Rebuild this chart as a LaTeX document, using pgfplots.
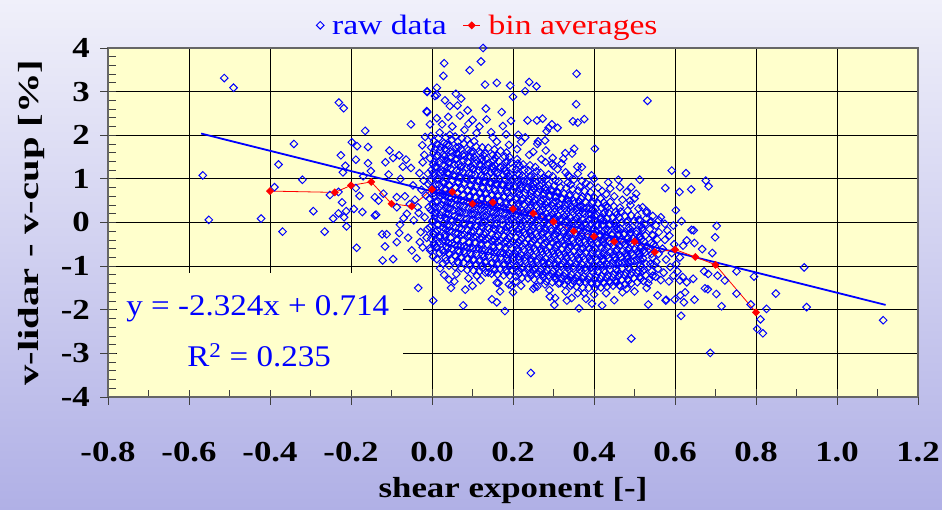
\documentclass[border=0pt]{standalone}
\usepackage{pgfplots}
\pgfplotsset{compat=1.18}
\usepackage{fontspec}
\setmainfont{Liberation Serif}
\newfontfamily\wideserif[FakeStretch=1.2]{Liberation Serif}
\newfontfamily\ylabfont[FakeStretch=1.4]{Liberation Serif}
\newfontfamily\eqfont[FakeStretch=1.1]{Liberation Serif}
\definecolor{plotbg}{RGB}{255,255,204}
\definecolor{bgtop}{RGB}{240,240,250}
\definecolor{bgmid}{RGB}{214,214,242}
\definecolor{bgbot}{RGB}{176,176,230}
\definecolor{pblue}{RGB}{0,0,255}
\definecolor{pred}{RGB}{255,0,0}
\begin{document}
\begin{tikzpicture}[x=1pt,y=1pt]
\shade[top color=bgtop, middle color=bgmid, bottom color=bgbot] (0,0) rectangle (942,510);
\begin{axis}[
  at={(108pt,113pt)}, anchor=south west,
  scale only axis, width=810pt, height=349pt,
  xmin=-0.8, xmax=1.2, ymin=-4, ymax=4,
  axis background/.style={fill=plotbg},
  xtick={-0.8,-0.6,-0.4,-0.2,0,0.2,0.4,0.6,0.8,1.0,1.2},
  xticklabels={-0.8,-0.6,-0.4,-0.2,0.0,0.2,0.4,0.6,0.8,1.0,1.2},
  ytick={-4,-3,-2,-1,0,1,2,3,4},
  yticklabels={-4,-3,-2,-1,0,1,2,3,4},
  minor x tick num=1, minor y tick num=4,
  xtick pos=bottom, ytick pos=left,
  tick align=inside, major tick length=8pt, minor tick length=8pt,
  tick style={black!75, line width=0.8pt},
  xmajorgrids, ymajorgrids,
  grid style={black, line width=0.8pt},
  axis line style={black!60, line width=1.4pt},
  xticklabel style={font=\wideserif\bfseries\fontsize{29}{29}\selectfont, inner sep=0pt, yshift=-45pt},
  yticklabel style={font=\wideserif\bfseries\fontsize{29}{29}\selectfont, inner sep=0pt, anchor=east, xshift=-18pt},
  xlabel={shear exponent [-]},
  xlabel style={font=\wideserif\bfseries\fontsize{29}{29}\selectfont, at={(axis description cs:0.5,0)}, anchor=base, yshift=-101pt},
  ylabel={v-lidar - v-cup [\%]},
  ylabel style={font=\ylabfont\bfseries\fontsize{29}{29}\selectfont, at={(axis description cs:0,0.5)}, anchor=base, yshift=69pt},
  legend style={draw=none, fill=none, at={(axis description cs:0.5,1)}, anchor=south, xshift=-25pt, yshift=8pt,
    font=\wideserif\fontsize{28}{28}\selectfont, legend columns=-1,
    /tikz/every odd column/.append style={column sep=6pt},
    /tikz/every even column/.append style={column sep=14pt}},
]
\fill[plotbg] (axis cs:-0.778,-3.83) rectangle (axis cs:-0.072,-1.15);
\addplot[only marks, mark=square, mark size=2.7pt, mark options={rotate=45, draw=pblue, line width=1pt, fill=none}] coordinates {
(-0.566,1.08)(-0.551,0.06)(-0.513,3.31)(-0.49,3.09)(-0.422,0.09)(-0.389,0.81)(-0.379,1.33)(-0.369,-0.21)(-0.341,1.80)(-0.32,0.98)(-0.293,0.26)(-0.265,-0.21)(-0.252,0.63)(-0.244,0.09)(-0.231,0.70)(-0.231,0.21)(-0.230,2.75)(-0.225,1.54)(-0.222,0.46)(-0.22,1.15)(-0.218,2.62)(-0.217,0.12)(-0.214,1.30)(-0.212,0.26)(-0.211,-0.09)(-0.198,1.84)(-0.193,0.31)(-0.188,1.44)(-0.188,0.79)(-0.186,-0.58)(-0.185,1.75)(-0.179,0.61)(-0.172,0.24)(-0.17,1.06)(-0.165,2.10)(-0.158,1.73)(-0.158,1.36)(-0.151,1.18)(-0.141,0.58)(-0.141,0.16)(-0.138,0.18)(-0.132,0.50)(-0.123,-0.27)(-0.122,-0.87)(-0.12,0.66)(-0.116,-0.55)(-0.115,1.38)(-0.112,-0.27)(-0.107,1.10)(-0.105,1.65)(-0.096,1.48)(-0.096,-0.84)(-0.087,0.58)(-0.087,0.35)(-0.087,-0.45)(-0.081,1.54)(-0.081,-0.24)(-0.079,-0.05)(-0.078,1.00)(-0.072,1.28)(-0.067,0.60)(-0.064,1.44)(-0.062,0.20)(-0.059,-0.35)(-0.052,2.25)(-0.052,1.25)(-0.05,-0.64)(-0.038,-0.82)(-0.035,0.35)(-0.034,-1.50)(-0.031,1.13)(-0.03,-0.45)(-0.024,1.77)(-0.023,1.38)(-0.023,-0.57)(-0.021,0.96)(-0.017,1.96)(-0.013,2.55)(-0.012,2.99)(-0.012,2.53)(-0.012,3.01)(-0.005,2.25)(-0.005,-0.59)(0.003,-1.79)(0.007,2.90)(0.012,2.92)(0.012,3.09)(0.012,2.39)(0.028,3.36)(0.030,3.65)(0.032,2.80)(0.042,-1.31)(0.044,2.67)(0.047,-1.50)(0.059,2.95)(0.063,2.68)(0.069,2.45)(0.072,2.84)(0.077,-1.90)(0.082,-1.54)(0.088,2.57)(0.09,2.26)(0.093,3.49)(0.111,-1.22)(0.117,2.20)(0.121,3.69)(0.126,4.0)(0.131,3.16)(0.133,2.61)(0.135,2.36)(0.139,-1.15)(0.146,2.07)(0.148,-1.76)(0.16,-1.83)(0.160,3.20)(0.164,-1.39)(0.168,-1.58)(0.172,2.53)(0.175,2.21)(0.18,-2.03)(0.183,2.02)(0.193,3.14)(0.195,2.33)(0.197,-1.45)(0.2,2.88)(0.207,-1.35)(0.213,2.01)(0.230,3.01)(0.236,2.34)(0.240,3.22)(0.244,-3.45)(0.25,-1.52)(0.254,-1.48)(0.258,3.12)(0.259,2.34)(0.262,1.86)(0.273,2.38)(0.279,1.88)(0.279,-1.42)(0.281,1.65)(0.283,2.09)(0.288,2.17)(0.291,-1.70)(0.296,2.25)(0.297,1.35)(0.298,1.48)(0.302,-1.89)(0.304,-1.73)(0.31,2.17)(0.316,-1.39)(0.324,1.46)(0.329,1.59)(0.333,-1.79)(0.345,-1.73)(0.346,1.58)(0.346,-1.41)(0.348,2.32)(0.351,1.69)(0.356,2.71)(0.357,3.41)(0.359,1.28)(0.36,2.29)(0.363,-1.97)(0.37,1.27)(0.376,2.37)(0.376,-1.62)(0.395,-1.86)(0.402,1.69)(0.407,-1.42)(0.435,0.92)(0.44,-1.39)(0.46,0.98)(0.464,0.81)(0.464,-1.45)(0.481,0.70)(0.481,-1.52)(0.489,0.50)(0.492,0.81)(0.492,-2.66)(0.504,0.66)(0.513,0.98)(0.514,0.05)(0.52,0.35)(0.53,0.26)(0.532,2.79)(0.534,-1.88)(0.534,-1.39)(0.538,0.01)(0.557,-1.67)(0.565,0.12)(0.575,-0.03)(0.576,0.79)(0.577,-1.79)(0.578,-1.77)(0.592,1.19)(0.596,-0.07)(0.599,-1.77)(0.602,0.28)(0.611,0.70)(0.612,-0.80)(0.612,-1.33)(0.613,-1.67)(0.615,-2.14)(0.616,0.03)(0.619,-1.25)(0.62,-0.53)(0.622,-1.83)(0.625,-1.60)(0.627,1.13)(0.629,-0.41)(0.629,-1.37)(0.64,0.76)(0.641,-0.17)(0.645,-1.29)(0.646,-0.18)(0.648,-0.47)(0.648,-1.77)(0.667,-0.61)(0.672,-1.12)(0.674,-1.51)(0.676,0.96)(0.681,-1.53)(0.682,-1.18)(0.683,0.83)(0.687,-2.99)(0.692,-0.70)(0.699,-0.34)(0.702,-1.64)(0.703,-0.08)(0.705,-1.22)(0.715,-1.92)(0.723,-1.33)(0.752,-1.12)(0.752,-1.63)(0.787,-1.88)(0.795,-1.24)(0.803,-2.44)(0.811,-2.22)(0.817,-2.54)(0.826,-1.98)(0.849,-1.63)(0.919,-1.03)(0.925,-1.94)(1.114,-2.24)
(0.336,1.08)(0.394,1.08)
(-0.015,0.62)(-0.008,0.35)(-0.018,0.12)(-0.011,-0.15)(-0.026,0.75)(-0.042,0.52)(-0.045,0.05)(-0.013,-0.35)(-0.019,1.55)(-0.01,1.12)(-0.028,-0.22)(-0.047,0.85)(-0.055,0.42)(-0.07,0.1)(-0.009,0.88)(-0.033,0.22)
(0.025,2.25)(0.05,2.20)(0.08,2.12)(0.11,2.05)(0.04,2.42)(0.1,2.35)(0.15,1.95)(0.16,1.85)(0.19,1.78)(0.21,1.68)(0.22,1.85)(0.24,1.55)(0.25,1.62)(0.27,1.45)(0.28,1.38)(0.30,1.30)(0.31,1.22)(0.33,1.15)(0.34,1.05)(0.35,0.98)(0.37,0.95)(0.38,0.90)(0.39,0.85)(0.41,0.80)(0.42,0.72)(0.43,0.65)(0.45,0.60)(0.47,0.52)(0.49,0.40)(0.51,0.32)(0.53,0.22)(0.545,0.15)(0.56,0.05)(0.23,1.95)(0.26,1.80)(0.32,1.35)(0.36,1.12)(0.40,1.0)(0.44,0.78)(0.5,0.55)
(0.02,-1.05)(0.06,-1.18)(0.09,-1.28)(0.12,-1.32)(0.16,-1.38)(0.19,-1.42)(0.22,-1.45)(0.26,-1.47)(0.29,-1.55)(0.33,-1.58)(0.36,-1.62)(0.40,-1.65)(0.43,-1.62)(0.47,-1.60)(0.50,-1.58)(0.53,-1.50)(0.055,-1.35)(0.03,-1.2)(0.1,-1.45)(0.2,-1.6)(0.38,-1.75)(0.45,-1.78)(0.42,-1.9)
(0.572,-1.15)(0.578,-0.85)(0.569,-0.60)(0.575,-0.40)(0.581,-0.18)(0.588,-1.02)(0.592,-0.70)(0.586,-0.30)(0.598,-0.50)(0.603,-0.95)(0.606,-1.12)(0.585,-1.35)(0.596,-1.22)(0.565,-1.32)
(0.003,-0.78)(-0.004,-0.64)(0.006,-0.52)(-0.002,-0.37)(0.004,-0.25)(-0.005,-0.11)(0.001,0.02)(0.007,0.15)(-0.003,0.29)(0.002,0.41)(-0.006,0.55)(0.005,0.68)(0.000,0.80)(-0.004,0.95)(0.006,1.07)(-0.001,1.21)(0.003,1.33)(-0.005,1.47)(0.004,1.60)(-0.002,1.72)(0.005,1.86)(-0.003,1.98)
(0.012,-0.84)(0.019,-0.70)(0.011,-0.58)(0.017,-0.45)(0.020,-0.31)(0.013,-0.18)(0.016,-0.05)(0.021,0.09)(0.010,0.22)(0.018,0.36)(0.014,0.48)(0.020,0.62)(0.012,0.74)(0.017,0.88)(0.015,1.01)(0.021,1.14)(0.011,1.27)(0.018,1.40)(0.014,1.54)(0.020,1.66)(0.013,1.80)(0.016,1.93)(0.019,2.06)
(0.027,-0.94)(0.033,-0.81)(0.029,-0.68)(0.035,-0.55)(0.026,-0.42)(0.031,-0.28)(0.034,-0.16)(0.028,-0.02)(0.032,0.11)(0.025,0.24)(0.036,0.37)(0.030,0.50)(0.027,0.64)(0.033,0.77)(0.029,0.90)(0.034,1.03)(0.026,1.16)(0.031,1.30)(0.035,1.42)(0.028,1.56)(0.032,1.69)(0.030,1.82)(0.034,1.95)
(0.042,-0.99)(0.048,-0.86)(0.044,-0.73)(0.049,-0.60)(0.041,-0.47)(0.046,-0.35)(0.050,-0.21)(0.043,-0.08)(0.047,0.06)(0.040,0.19)(0.045,0.32)(0.049,0.45)(0.042,0.58)(0.046,0.72)(0.044,0.85)(0.050,0.97)(0.041,1.11)(0.047,1.24)(0.043,1.37)(0.048,1.50)(0.045,1.63)(0.041,1.77)(0.049,1.90)(0.044,2.01)
(0.057,-1.02)(0.063,-0.90)(0.059,-0.77)(0.065,-0.64)(0.056,-0.51)(0.061,-0.39)(0.064,-0.25)(0.058,-0.12)(0.062,0.01)(0.055,0.14)(0.066,0.27)(0.060,0.40)(0.057,0.53)(0.063,0.67)(0.059,0.80)(0.064,0.93)(0.056,1.06)(0.061,1.19)(0.065,1.32)(0.058,1.45)(0.062,1.58)(0.060,1.72)(0.064,1.85)(0.057,1.97)
(0.072,-1.05)(0.078,-0.92)(0.074,-0.80)(0.079,-0.66)(0.071,-0.54)(0.076,-0.41)(0.080,-0.28)(0.073,-0.15)(0.077,-0.02)(0.070,0.11)(0.075,0.24)(0.079,0.37)(0.072,0.51)(0.076,0.63)(0.074,0.77)(0.080,0.90)(0.071,1.03)(0.077,1.16)(0.073,1.29)(0.078,1.42)(0.075,1.55)(0.071,1.68)(0.079,1.81)(0.074,1.93)
(0.087,-1.09)(0.093,-0.96)(0.089,-0.83)(0.095,-0.70)(0.086,-0.57)(0.091,-0.45)(0.094,-0.31)(0.088,-0.18)(0.092,-0.05)(0.085,0.08)(0.096,0.21)(0.090,0.34)(0.087,0.47)(0.093,0.61)(0.089,0.74)(0.094,0.87)(0.086,1.00)(0.091,1.13)(0.095,1.26)(0.088,1.39)(0.092,1.52)(0.090,1.66)(0.094,1.79)(0.087,1.90)
(0.102,-1.10)(0.108,-0.98)(0.104,-0.85)(0.109,-0.72)(0.101,-0.59)(0.106,-0.46)(0.110,-0.33)(0.103,-0.20)(0.107,-0.07)(0.100,0.06)(0.105,0.19)(0.109,0.32)(0.102,0.45)(0.106,0.58)(0.104,0.71)(0.110,0.84)(0.101,0.97)(0.107,1.10)(0.103,1.23)(0.108,1.36)(0.105,1.49)(0.101,1.62)(0.109,1.74)(0.104,1.86)
(0.117,-1.12)(0.123,-0.99)(0.119,-0.86)(0.125,-0.73)(0.116,-0.60)(0.121,-0.48)(0.124,-0.35)(0.118,-0.22)(0.122,-0.09)(0.115,0.04)(0.126,0.17)(0.120,0.30)(0.117,0.43)(0.123,0.56)(0.119,0.69)(0.124,0.82)(0.116,0.95)(0.121,1.08)(0.125,1.21)(0.118,1.34)(0.122,1.47)(0.120,1.60)(0.124,1.72)
(0.132,-1.15)(0.138,-1.02)(0.134,-0.89)(0.139,-0.76)(0.131,-0.63)(0.136,-0.50)(0.140,-0.37)(0.133,-0.24)(0.137,-0.11)(0.130,0.02)(0.135,0.15)(0.139,0.28)(0.132,0.41)(0.136,0.54)(0.134,0.67)(0.140,0.80)(0.131,0.93)(0.137,1.06)(0.133,1.19)(0.138,1.32)(0.135,1.45)(0.131,1.58)(0.139,1.71)
(0.147,-1.17)(0.153,-1.05)(0.149,-0.92)(0.155,-0.79)(0.146,-0.66)(0.151,-0.53)(0.154,-0.40)(0.148,-0.27)(0.152,-0.14)(0.145,-0.01)(0.156,0.12)(0.150,0.25)(0.147,0.38)(0.153,0.51)(0.149,0.64)(0.154,0.77)(0.146,0.90)(0.151,1.03)(0.155,1.16)(0.148,1.29)(0.152,1.42)(0.150,1.55)(0.154,1.67)
(0.162,-1.19)(0.168,-1.06)(0.164,-0.94)(0.169,-0.81)(0.161,-0.68)(0.166,-0.55)(0.170,-0.42)(0.163,-0.29)(0.167,-0.16)(0.160,-0.03)(0.165,0.10)(0.169,0.23)(0.162,0.36)(0.166,0.49)(0.164,0.62)(0.170,0.75)(0.161,0.88)(0.167,1.01)(0.163,1.14)(0.168,1.27)(0.165,1.40)(0.161,1.53)(0.169,1.64)
(0.177,-1.21)(0.183,-1.08)(0.179,-0.95)(0.185,-0.82)(0.176,-0.70)(0.181,-0.57)(0.184,-0.44)(0.178,-0.31)(0.182,-0.18)(0.175,-0.05)(0.186,0.08)(0.180,0.21)(0.177,0.34)(0.183,0.47)(0.179,0.60)(0.184,0.73)(0.176,0.86)(0.181,0.99)(0.185,1.12)(0.178,1.25)(0.182,1.38)(0.180,1.51)(0.184,1.60)
(0.192,-1.22)(0.198,-1.09)(0.194,-0.96)(0.199,-0.84)(0.191,-0.71)(0.196,-0.58)(0.200,-0.45)(0.193,-0.32)(0.197,-0.19)(0.190,-0.06)(0.195,0.07)(0.199,0.20)(0.192,0.33)(0.196,0.46)(0.194,0.59)(0.200,0.72)(0.191,0.85)(0.197,0.98)(0.193,1.11)(0.198,1.24)(0.195,1.37)(0.191,1.50)
(0.207,-1.24)(0.213,-1.11)(0.209,-0.98)(0.215,-0.85)(0.206,-0.72)(0.211,-0.60)(0.214,-0.47)(0.208,-0.34)(0.212,-0.21)(0.205,-0.08)(0.216,0.05)(0.210,0.18)(0.207,0.31)(0.213,0.44)(0.209,0.57)(0.214,0.70)(0.206,0.83)(0.211,0.96)(0.215,1.09)(0.208,1.22)(0.212,1.35)(0.210,1.45)
(0.222,-1.27)(0.228,-1.14)(0.224,-1.01)(0.229,-0.88)(0.221,-0.75)(0.226,-0.62)(0.230,-0.49)(0.223,-0.36)(0.227,-0.23)(0.220,-0.10)(0.225,0.03)(0.229,0.16)(0.222,0.29)(0.226,0.42)(0.224,0.55)(0.230,0.68)(0.221,0.81)(0.227,0.94)(0.223,1.07)(0.228,1.20)(0.225,1.33)
(0.237,-1.28)(0.243,-1.15)(0.239,-1.02)(0.245,-0.89)(0.236,-0.76)(0.241,-0.63)(0.244,-0.50)(0.238,-0.37)(0.242,-0.24)(0.235,-0.11)(0.246,0.02)(0.240,0.15)(0.237,0.28)(0.243,0.41)(0.239,0.54)(0.244,0.67)(0.236,0.80)(0.241,0.93)(0.245,1.06)(0.238,1.19)(0.242,1.31)
(0.252,-1.30)(0.258,-1.17)(0.254,-1.04)(0.259,-0.91)(0.251,-0.78)(0.256,-0.65)(0.260,-0.52)(0.253,-0.39)(0.257,-0.26)(0.250,-0.13)(0.255,0.00)(0.259,0.13)(0.252,0.26)(0.256,0.39)(0.254,0.52)(0.260,0.65)(0.251,0.78)(0.257,0.91)(0.253,1.04)(0.258,1.17)(0.255,1.27)
(0.267,-1.32)(0.273,-1.19)(0.269,-1.06)(0.275,-0.93)(0.266,-0.80)(0.271,-0.67)(0.274,-0.54)(0.268,-0.41)(0.272,-0.28)(0.265,-0.15)(0.276,-0.02)(0.270,0.11)(0.267,0.24)(0.273,0.37)(0.269,0.50)(0.274,0.63)(0.266,0.76)(0.271,0.89)(0.275,1.02)(0.268,1.14)
(0.282,-1.35)(0.288,-1.22)(0.284,-1.09)(0.289,-0.96)(0.281,-0.83)(0.286,-0.70)(0.290,-0.57)(0.283,-0.44)(0.287,-0.31)(0.280,-0.18)(0.285,-0.05)(0.289,0.08)(0.282,0.21)(0.286,0.34)(0.284,0.47)(0.290,0.60)(0.281,0.73)(0.287,0.86)(0.283,0.99)(0.288,1.10)
(0.297,-1.37)(0.303,-1.24)(0.299,-1.11)(0.305,-0.98)(0.296,-0.85)(0.301,-0.72)(0.304,-0.59)(0.298,-0.46)(0.302,-0.33)(0.295,-0.20)(0.306,-0.07)(0.300,0.06)(0.297,0.19)(0.303,0.32)(0.299,0.45)(0.304,0.58)(0.296,0.71)(0.301,0.84)(0.305,0.96)(0.298,1.06)
(0.312,-1.40)(0.318,-1.27)(0.314,-1.14)(0.319,-1.01)(0.311,-0.88)(0.316,-0.75)(0.320,-0.62)(0.313,-0.49)(0.317,-0.36)(0.310,-0.23)(0.315,-0.10)(0.319,0.03)(0.312,0.16)(0.316,0.29)(0.314,0.42)(0.320,0.55)(0.311,0.68)(0.317,0.81)(0.313,0.94)
(0.327,-1.42)(0.333,-1.29)(0.329,-1.16)(0.335,-1.03)(0.326,-0.90)(0.331,-0.77)(0.334,-0.64)(0.328,-0.51)(0.332,-0.38)(0.325,-0.25)(0.336,-0.12)(0.330,0.01)(0.327,0.14)(0.333,0.27)(0.329,0.40)(0.334,0.53)(0.326,0.66)(0.331,0.79)(0.335,0.91)
(0.342,-1.45)(0.348,-1.32)(0.344,-1.19)(0.349,-1.06)(0.341,-0.93)(0.346,-0.80)(0.350,-0.67)(0.343,-0.54)(0.347,-0.41)(0.340,-0.28)(0.345,-0.15)(0.349,-0.02)(0.342,0.11)(0.346,0.24)(0.344,0.37)(0.350,0.50)(0.341,0.63)(0.347,0.76)(0.343,0.87)
(0.357,-1.47)(0.363,-1.34)(0.359,-1.21)(0.365,-1.08)(0.356,-0.95)(0.361,-0.82)(0.364,-0.69)(0.358,-0.56)(0.362,-0.43)(0.355,-0.30)(0.366,-0.17)(0.360,-0.04)(0.357,0.09)(0.363,0.22)(0.359,0.35)(0.364,0.48)(0.356,0.61)(0.361,0.73)(0.365,0.82)
(0.372,-1.49)(0.378,-1.36)(0.374,-1.23)(0.379,-1.10)(0.371,-0.97)(0.376,-0.84)(0.380,-0.71)(0.373,-0.58)(0.377,-0.45)(0.370,-0.32)(0.375,-0.19)(0.379,-0.06)(0.372,0.07)(0.376,0.20)(0.374,0.33)(0.380,0.46)(0.371,0.59)(0.377,0.72)
(0.387,-1.50)(0.393,-1.37)(0.389,-1.24)(0.395,-1.11)(0.386,-0.98)(0.391,-0.85)(0.394,-0.72)(0.388,-0.59)(0.392,-0.46)(0.385,-0.33)(0.396,-0.20)(0.390,-0.07)(0.387,0.06)(0.393,0.19)(0.389,0.32)(0.394,0.45)(0.386,0.58)(0.391,0.69)
(0.402,-1.50)(0.408,-1.38)(0.404,-1.25)(0.409,-1.12)(0.401,-0.99)(0.406,-0.86)(0.410,-0.73)(0.403,-0.60)(0.407,-0.47)(0.400,-0.34)(0.405,-0.21)(0.409,-0.08)(0.402,0.05)(0.406,0.18)(0.404,0.31)(0.410,0.44)(0.401,0.57)
(0.417,-1.49)(0.423,-1.36)(0.419,-1.23)(0.425,-1.10)(0.416,-0.97)(0.421,-0.84)(0.424,-0.71)(0.418,-0.58)(0.422,-0.45)(0.415,-0.32)(0.426,-0.19)(0.420,-0.06)(0.417,0.07)(0.423,0.20)(0.419,0.33)(0.424,0.46)(0.416,0.55)
(0.432,-1.47)(0.438,-1.34)(0.434,-1.21)(0.439,-1.08)(0.431,-0.95)(0.436,-0.82)(0.440,-0.69)(0.433,-0.56)(0.437,-0.43)(0.430,-0.30)(0.435,-0.17)(0.439,-0.04)(0.432,0.09)(0.436,0.22)(0.434,0.35)(0.440,0.47)
(0.447,-1.45)(0.453,-1.32)(0.449,-1.19)(0.455,-1.06)(0.446,-0.93)(0.451,-0.80)(0.454,-0.67)(0.448,-0.54)(0.452,-0.41)(0.445,-0.28)(0.456,-0.15)(0.450,-0.02)(0.447,0.11)(0.453,0.24)(0.449,0.37)
(0.462,-1.44)(0.468,-1.31)(0.464,-1.18)(0.469,-1.05)(0.461,-0.92)(0.466,-0.79)(0.470,-0.66)(0.463,-0.53)(0.467,-0.40)(0.460,-0.27)(0.465,-0.14)(0.469,-0.01)(0.462,0.12)(0.466,0.25)(0.464,0.34)
(0.477,-1.42)(0.483,-1.29)(0.479,-1.16)(0.485,-1.03)(0.476,-0.90)(0.481,-0.77)(0.484,-0.64)(0.478,-0.51)(0.482,-0.38)(0.475,-0.25)(0.486,-0.12)(0.480,0.01)(0.477,0.14)(0.483,0.27)
(0.492,-1.40)(0.498,-1.27)(0.494,-1.14)(0.499,-1.01)(0.491,-0.88)(0.496,-0.75)(0.500,-0.62)(0.493,-0.49)(0.497,-0.36)(0.490,-0.23)(0.495,-0.10)(0.499,0.03)(0.492,0.16)
(0.507,-1.37)(0.513,-1.24)(0.509,-1.11)(0.515,-0.98)(0.506,-0.85)(0.511,-0.72)(0.514,-0.59)(0.508,-0.46)(0.512,-0.33)(0.505,-0.20)(0.516,-0.07)(0.510,0.06)(0.507,0.15)
(0.522,-1.34)(0.528,-1.21)(0.524,-1.08)(0.529,-0.95)(0.521,-0.82)(0.526,-0.69)(0.530,-0.56)(0.523,-0.43)(0.527,-0.30)(0.520,-0.17)(0.525,-0.04)(0.529,0.09)
(0.537,-1.30)(0.543,-1.12)(0.539,-0.95)(0.544,-0.80)(0.536,-0.62)(0.541,-0.47)(0.545,-0.30)(0.538,-0.15)(0.542,0.02)
(0.552,-1.24)(0.558,-1.06)(0.554,-0.90)(0.559,-0.72)(0.551,-0.55)(0.556,-0.39)(0.560,-0.22)(0.553,-0.07)
(0.011,-0.55)(0.004,-0.28)(0.013,-0.05)(0.006,0.23)(0.009,0.47)(0.003,0.75)(0.012,0.99)(0.007,1.27)(0.010,1.51)
(0.026,-0.63)(0.019,-0.35)(0.028,-0.11)(0.021,0.17)(0.024,0.41)(0.018,0.69)(0.027,0.93)(0.022,1.21)(0.025,1.45)(0.020,1.73)
(0.041,-0.71)(0.034,-0.43)(0.043,-0.19)(0.036,0.09)(0.039,0.33)(0.033,0.61)(0.042,0.85)(0.037,1.13)(0.040,1.37)(0.035,1.65)
(0.056,-0.76)(0.049,-0.48)(0.058,-0.24)(0.051,0.04)(0.054,0.28)(0.048,0.56)(0.057,0.80)(0.052,1.08)(0.055,1.32)(0.050,1.60)
(0.071,-0.81)(0.064,-0.53)(0.073,-0.29)(0.066,-0.01)(0.069,0.23)(0.063,0.51)(0.072,0.75)(0.067,1.03)(0.070,1.27)(0.065,1.55)
(0.086,-0.83)(0.079,-0.55)(0.088,-0.31)(0.081,-0.03)(0.084,0.21)(0.078,0.49)(0.087,0.73)(0.082,1.01)(0.085,1.25)(0.080,1.53)
(0.101,-0.86)(0.094,-0.58)(0.103,-0.34)(0.096,-0.06)(0.099,0.18)(0.093,0.46)(0.102,0.70)(0.097,0.98)(0.100,1.22)(0.095,1.50)
(0.116,-0.89)(0.109,-0.61)(0.118,-0.37)(0.111,-0.09)(0.114,0.15)(0.108,0.43)(0.117,0.67)(0.112,0.95)(0.115,1.19)(0.110,1.43)
(0.131,-0.91)(0.124,-0.63)(0.133,-0.39)(0.126,-0.11)(0.129,0.13)(0.123,0.41)(0.132,0.65)(0.127,0.93)(0.130,1.17)(0.125,1.41)
(0.146,-0.94)(0.139,-0.66)(0.148,-0.42)(0.141,-0.14)(0.144,0.10)(0.138,0.38)(0.147,0.62)(0.142,0.90)(0.145,1.14)(0.140,1.36)
(0.161,-0.96)(0.154,-0.68)(0.163,-0.44)(0.156,-0.16)(0.159,0.08)(0.153,0.36)(0.162,0.60)(0.157,0.88)(0.160,1.12)(0.155,1.31)
(0.176,-0.98)(0.169,-0.70)(0.178,-0.46)(0.171,-0.18)(0.174,0.06)(0.168,0.34)(0.177,0.58)(0.172,0.86)(0.175,1.09)(0.170,1.26)
(0.191,-1.01)(0.184,-0.73)(0.193,-0.49)(0.186,-0.21)(0.189,0.03)(0.183,0.31)(0.192,0.55)(0.187,0.83)(0.190,1.05)
(0.206,-1.03)(0.199,-0.75)(0.208,-0.51)(0.201,-0.23)(0.204,0.01)(0.198,0.29)(0.207,0.53)(0.202,0.81)(0.205,1.01)
(0.221,-1.06)(0.214,-0.78)(0.223,-0.54)(0.216,-0.26)(0.219,-0.02)(0.213,0.26)(0.222,0.50)(0.217,0.78)(0.220,0.97)
(0.236,-1.08)(0.229,-0.80)(0.238,-0.56)(0.231,-0.28)(0.234,-0.04)(0.228,0.24)(0.237,0.48)(0.232,0.76)(0.235,0.94)
(0.251,-1.11)(0.244,-0.83)(0.253,-0.59)(0.246,-0.31)(0.249,-0.07)(0.243,0.21)(0.252,0.45)(0.247,0.73)(0.250,0.89)
(0.266,-1.13)(0.259,-0.85)(0.268,-0.61)(0.261,-0.33)(0.264,-0.09)(0.258,0.19)(0.267,0.43)(0.262,0.69)(0.265,0.85)
(0.281,-1.16)(0.274,-0.88)(0.283,-0.64)(0.276,-0.36)(0.279,-0.12)(0.273,0.16)(0.282,0.40)(0.277,0.66)(0.280,0.81)
(0.296,-1.18)(0.289,-0.90)(0.298,-0.66)(0.291,-0.38)(0.294,-0.14)(0.288,0.14)(0.297,0.38)(0.292,0.63)(0.295,0.75)
(0.311,-1.21)(0.304,-0.93)(0.313,-0.69)(0.306,-0.41)(0.309,-0.17)(0.303,0.11)(0.312,0.35)(0.307,0.59)(0.310,0.69)
(0.326,-1.23)(0.319,-0.95)(0.328,-0.71)(0.321,-0.43)(0.324,-0.19)(0.318,0.09)(0.327,0.32)(0.322,0.54)
(0.341,-1.26)(0.334,-0.98)(0.343,-0.74)(0.336,-0.46)(0.339,-0.22)(0.333,0.06)(0.342,0.29)(0.337,0.49)
(0.356,-1.28)(0.349,-1.00)(0.358,-0.76)(0.351,-0.48)(0.354,-0.24)(0.348,0.04)(0.357,0.26)(0.352,0.44)
(0.371,-1.29)(0.364,-1.01)(0.373,-0.77)(0.366,-0.49)(0.369,-0.25)(0.363,0.02)(0.372,0.23)(0.367,0.39)
(0.386,-1.31)(0.379,-1.03)(0.388,-0.79)(0.381,-0.51)(0.384,-0.27)(0.378,-0.01)(0.387,0.19)(0.382,0.34)
(0.401,-1.31)(0.394,-1.03)(0.403,-0.79)(0.396,-0.51)(0.399,-0.27)(0.393,-0.03)(0.402,0.15)(0.397,0.29)
(0.416,-1.29)(0.409,-1.01)(0.418,-0.77)(0.411,-0.49)(0.414,-0.27)(0.408,-0.04)(0.417,0.11)
(0.431,-1.27)(0.424,-0.99)(0.433,-0.75)(0.426,-0.49)(0.429,-0.29)(0.423,-0.06)(0.432,0.09)
(0.446,-1.26)(0.439,-0.98)(0.448,-0.74)(0.441,-0.48)(0.444,-0.29)(0.438,-0.07)
(0.461,-1.23)(0.454,-0.95)(0.463,-0.73)(0.456,-0.47)(0.459,-0.29)(0.453,-0.09)
(0.476,-1.21)(0.469,-0.93)(0.478,-0.71)(0.471,-0.46)(0.474,-0.28)
(0.491,-1.19)(0.484,-0.91)(0.493,-0.69)(0.486,-0.45)(0.489,-0.27)
(0.506,-1.16)(0.499,-0.89)(0.508,-0.67)(0.501,-0.43)(0.504,-0.26)
(0.521,-1.11)(0.514,-0.85)(0.523,-0.63)(0.516,-0.39)
(0.005,-0.47)(0.008,-0.21)(0.002,0.05)(0.007,0.34)(0.004,0.60)(0.009,0.86)(0.003,1.14)(0.006,1.39)(0.008,1.68)
(0.035,-0.88)(0.038,-0.60)(0.032,-0.33)(0.037,-0.07)(0.034,0.20)(0.039,0.46)(0.033,0.73)(0.036,1.00)(0.038,1.26)(0.031,1.52)(0.036,1.79)
(0.065,-0.93)(0.068,-0.67)(0.062,-0.41)(0.067,-0.13)(0.064,0.12)(0.069,0.39)(0.063,0.66)(0.066,0.92)(0.068,1.18)(0.061,1.46)(0.066,1.73)
(0.095,-1.00)(0.098,-0.74)(0.092,-0.47)(0.097,-0.21)(0.094,0.06)(0.099,0.31)(0.093,0.58)(0.096,0.85)(0.098,1.11)(0.091,1.37)(0.096,1.62)
(0.125,-1.05)(0.128,-0.79)(0.122,-0.53)(0.127,-0.26)(0.124,0.00)(0.129,0.27)(0.123,0.53)(0.126,0.79)(0.128,1.05)(0.121,1.31)(0.126,1.55)
(0.155,-1.10)(0.158,-0.84)(0.152,-0.58)(0.157,-0.31)(0.154,-0.05)(0.159,0.21)(0.153,0.47)(0.156,0.73)(0.158,0.99)(0.151,1.24)(0.156,1.48)
(0.185,-1.14)(0.188,-0.88)(0.182,-0.62)(0.187,-0.36)(0.184,-0.10)(0.189,0.16)(0.183,0.42)(0.186,0.68)(0.188,0.93)(0.181,1.18)(0.186,1.40)
(0.215,-1.18)(0.218,-0.92)(0.212,-0.66)(0.217,-0.40)(0.214,-0.14)(0.219,0.12)(0.213,0.37)(0.216,0.63)(0.218,0.88)(0.211,1.12)(0.216,1.30)
(0.245,-1.22)(0.248,-0.96)(0.242,-0.70)(0.247,-0.44)(0.244,-0.18)(0.249,0.08)(0.243,0.33)(0.246,0.58)(0.248,0.83)(0.241,1.05)
(0.275,-1.26)(0.278,-1.00)(0.272,-0.74)(0.277,-0.48)(0.274,-0.22)(0.279,0.03)(0.273,0.28)(0.276,0.53)(0.278,0.77)(0.271,0.98)
(0.305,-1.30)(0.308,-1.04)(0.302,-0.78)(0.307,-0.52)(0.304,-0.26)(0.309,-0.01)(0.303,0.24)(0.306,0.48)(0.308,0.70)
(0.335,-1.34)(0.338,-1.08)(0.332,-0.82)(0.337,-0.56)(0.334,-0.30)(0.339,-0.05)(0.333,0.19)(0.336,0.42)(0.338,0.62)
(0.365,-1.38)(0.368,-1.12)(0.362,-0.86)(0.367,-0.60)(0.364,-0.34)(0.369,-0.09)(0.363,0.14)(0.366,0.36)(0.368,0.55)
(0.395,-1.40)(0.398,-1.15)(0.392,-0.89)(0.397,-0.63)(0.394,-0.38)(0.399,-0.13)(0.393,0.09)(0.396,0.30)(0.398,0.47)
(0.425,-1.40)(0.428,-1.14)(0.422,-0.88)(0.427,-0.62)(0.424,-0.38)(0.429,-0.15)(0.423,0.05)(0.426,0.24)(0.428,0.38)
(0.455,-1.38)(0.458,-1.12)(0.452,-0.86)(0.457,-0.61)(0.454,-0.37)(0.459,-0.16)(0.453,0.02)(0.456,0.18)
(0.485,-1.34)(0.488,-1.08)(0.482,-0.83)(0.487,-0.58)(0.484,-0.35)(0.489,-0.15)(0.483,0.04)
(0.515,-1.29)(0.518,-1.03)(0.512,-0.78)(0.517,-0.54)(0.514,-0.32)(0.519,-0.12)
(0.545,-1.22)(0.548,-0.97)(0.542,-0.72)(0.547,-0.50)(0.544,-0.28)
};
\addlegendentry{\textcolor{pblue}{raw data}}
\addplot[pblue, line width=1.8pt, forget plot] coordinates {(-0.57,2.039)(1.12,-1.889)};
\addplot[pred, line width=0.8pt, mark=square*, mark size=2.4pt, mark options={rotate=45, fill=pred, draw=pred}] coordinates {
(-0.40,0.72)(-0.24,0.69)(-0.20,0.85)(-0.15,0.93)(-0.10,0.43)(-0.05,0.37)(0.00,0.76)(0.05,0.70)(0.10,0.43)(0.15,0.46)(0.20,0.31)(0.25,0.21)(0.30,0.02)(0.35,-0.20)(0.40,-0.32)(0.45,-0.44)(0.50,-0.44)(0.55,-0.68)(0.60,-0.62)(0.65,-0.79)(0.70,-0.97)(0.80,-2.06)
};
\addlegendentry{\textcolor{pred}{bin averages}}
\node[anchor=base, text=pblue, font=\eqfont\fontsize{30}{30}\selectfont, inner sep=0pt] at (axis cs:-0.43,-2.13) {y = -2.324x + 0.714};
\node[anchor=base, text=pblue, font=\eqfont\fontsize{30}{30}\selectfont, inner sep=0pt] at (axis cs:-0.427,-3.31) {R\textsuperscript{2} = 0.235};
\end{axis}
\begin{axis}[
  at={(108pt,113pt)}, anchor=south west,
  scale only axis, width=810pt, height=349pt,
  xmin=-0.8, xmax=1.2, ymin=-4, ymax=4,
  xtick={-0.8,-0.6,-0.4,-0.2,0,0.2,0.4,0.6,0.8,1.0,1.2},
  ytick={-4,-3,-2,-1,0,1,2,3,4},
  xticklabels={}, yticklabels={},
  xtick pos=bottom, ytick pos=left,
  tick align=outside, major tick length=8pt,
  tick style={black!75, line width=0.8pt},
  axis line style={draw=none},
]
\end{axis}
\pgfresetboundingbox
\path[use as bounding box] (0,0) rectangle (942,510);
\end{tikzpicture}
\end{document}
